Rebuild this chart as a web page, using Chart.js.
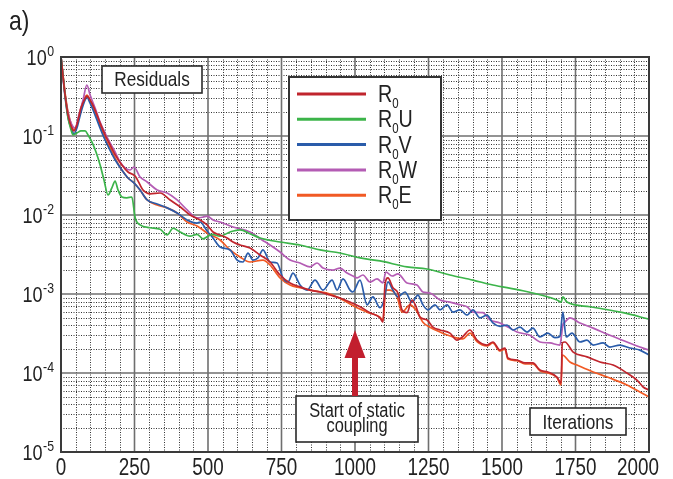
<!DOCTYPE html>
<html>
<head>
<meta charset="utf-8">
<script src="https://cdn.jsdelivr.net/npm/chart.js@4.4.1/dist/chart.umd.min.js"></script>
<style>
    html, body { margin: 0; padding: 0; background: #fff; }
</style>
</head>
<body>
<canvas id="chart-residuos" width="673" height="479"></canvas>
<script>
/**
 * Residuals vs iterations (log scale)
 */
const FONT = '"Liberation Sans", Arial, sans-serif';
const NARROW = 0.82; // compresion horizontal, imita Helvetica Condensed

// Series: iterations and residual values
const itR0 = [0, 14, 24, 37, 44, 54, 68, 82, 88, 99, 116, 133, 150, 167, 184, 207, 228, 252, 279, 303, 337, 371, 405, 439, 473, 497, 517, 541, 565, 585, 609, 643, 677, 711, 745, 779, 813, 847, 881, 915, 949, 983, 1017, 1051, 1085, 1095, 1102, 1112, 1129, 1146, 1160, 1177, 1194, 1207, 1221, 1245, 1265, 1289, 1323, 1347, 1367, 1391, 1415, 1449, 1469, 1493, 1510, 1520, 1551, 1578, 1605, 1629, 1656, 1687, 1701, 1705, 1714, 1742, 1789, 1833, 1878, 1925, 1959, 1980, 2000];
const valR0 = [1.0, 0.33, 0.184, 0.126, 0.116, 0.138, 0.226, 0.30, 0.32, 0.286, 0.213, 0.146, 0.103, 0.077, 0.058, 0.043, 0.035, 0.0312, 0.0207, 0.0185, 0.019, 0.0155, 0.0127, 0.01, 0.00865, 0.00747, 0.00609, 0.00558, 0.00512, 0.00455, 0.00417, 0.00382, 0.00312, 0.00254, 0.00174, 0.00138, 0.00123, 0.00112, 0.00106, 0.00097, 0.00089, 0.00079, 0.00069, 0.00058, 0.0005, 0.00044, 0.0013, 0.0016, 0.0012, 0.00103, 0.00063, 0.00058, 0.00084, 0.0007, 0.00051, 0.00047, 0.00038, 0.00035, 0.00032, 0.00026, 0.00029, 0.00035, 0.00026, 0.000226, 0.000247, 0.000195, 0.000207, 0.000155, 0.000146, 0.000134, 0.000134, 0.000109, 0.000103, 0.0000889, 0.0000747, 0.00024, 0.000247, 0.000184, 0.00016, 0.000138, 0.000126, 0.0001, 0.0000815, 0.0000665, 0.0000609];

const itR0U = [0, 14, 24, 34, 41, 54, 68, 82, 92, 105, 119, 133, 146, 160, 173, 184, 194, 207, 224, 241, 252, 269, 303, 337, 361, 381, 405, 439, 463, 483, 514, 541, 575, 609, 643, 677, 745, 813, 881, 949, 1017, 1085, 1177, 1245, 1323, 1401, 1469, 1571, 1687, 1701, 1707, 1721, 1799, 1912, 2000];
const valR0U = [1.0, 0.33, 0.17, 0.12, 0.103, 0.109, 0.116, 0.116, 0.103, 0.084, 0.0627, 0.043, 0.028, 0.0179, 0.022, 0.0269, 0.0207, 0.0169, 0.0165, 0.0169, 0.0093, 0.0075, 0.0069, 0.0066, 0.0056, 0.0068, 0.0061, 0.0054, 0.0057, 0.005, 0.0057, 0.0054, 0.0061, 0.0065, 0.0058, 0.00512, 0.00455, 0.00417, 0.00361, 0.0033, 0.00286, 0.00262, 0.0022, 0.00207, 0.00174, 0.0015, 0.0013, 0.0011, 0.00084, 0.00079, 0.00092, 0.00079, 0.00069, 0.00058, 0.00048];

const itR0V = [0, 14, 24, 37, 44, 54, 68, 82, 88, 99, 116, 133, 150, 167, 184, 207, 228, 248, 269, 293, 327, 361, 395, 429, 463, 473, 497, 517, 541, 575, 599, 619, 636, 653, 670, 687, 711, 735, 755, 772, 789, 813, 837, 864, 891, 922, 939, 959, 983, 993, 1017, 1041, 1061, 1085, 1099, 1112, 1129, 1146, 1170, 1194, 1214, 1231, 1248, 1272, 1289, 1313, 1333, 1357, 1381, 1401, 1425, 1449, 1469, 1493, 1517, 1537, 1561, 1585, 1605, 1629, 1656, 1680, 1697, 1707, 1718, 1738, 1765, 1789, 1810, 1844, 1867, 1901, 1935, 1969, 2000];
const valR0V = [1.0, 0.31, 0.17, 0.12, 0.106, 0.126, 0.20, 0.286, 0.31, 0.26, 0.184, 0.126, 0.089, 0.066, 0.05, 0.0371, 0.0294, 0.0255, 0.0207, 0.0155, 0.0138, 0.0123, 0.0106, 0.00865, 0.0079, 0.00815, 0.00627, 0.00512, 0.00394, 0.00361, 0.00269, 0.00254, 0.0033, 0.00269, 0.00286, 0.00361, 0.00254, 0.00247, 0.0016, 0.00142, 0.00184, 0.0013, 0.00112, 0.0015, 0.00112, 0.0015, 0.00112, 0.00155, 0.00112, 0.00106, 0.0015, 0.00073, 0.00092, 0.00067, 0.00084, 0.00142, 0.00112, 0.00092, 0.00106, 0.00079, 0.00097, 0.00073, 0.00063, 0.00073, 0.00063, 0.00073, 0.00059, 0.00063, 0.00054, 0.00063, 0.0005, 0.00054, 0.00043, 0.00039, 0.000405, 0.00035, 0.00038, 0.00033, 0.00037, 0.000286, 0.00032, 0.00028, 0.00029, 0.00059, 0.000286, 0.00032, 0.000247, 0.00026, 0.000226, 0.00024, 0.000213, 0.000226, 0.000207, 0.000195, 0.000169];

const itR0W = [0, 14, 24, 37, 48, 61, 75, 88, 99, 116, 133, 150, 167, 184, 201, 218, 235, 248, 269, 293, 327, 361, 395, 429, 463, 483, 497, 517, 541, 585, 643, 684, 711, 745, 779, 813, 847, 871, 891, 925, 949, 973, 993, 1007, 1027, 1051, 1075, 1095, 1105, 1126, 1146, 1177, 1211, 1231, 1255, 1289, 1323, 1357, 1381, 1401, 1435, 1459, 1493, 1527, 1551, 1595, 1629, 1663, 1697, 1707, 1714, 1731, 1765, 1810, 1867, 1925, 1969, 2000];
const valR0W = [1.0, 0.33, 0.195, 0.138, 0.126, 0.184, 0.286, 0.442, 0.33, 0.226, 0.150, 0.109, 0.0815, 0.0627, 0.0469, 0.0394, 0.0371, 0.0405, 0.0303, 0.0262, 0.0207, 0.019, 0.0155, 0.0116, 0.00917, 0.0094, 0.0097, 0.00865, 0.00815, 0.00705, 0.00609, 0.00483, 0.00417, 0.0034, 0.00269, 0.00247, 0.0022, 0.00247, 0.00213, 0.00201, 0.00213, 0.00184, 0.00169, 0.0016, 0.00174, 0.00142, 0.00155, 0.00138, 0.0019, 0.00169, 0.0018, 0.00138, 0.0013, 0.00106, 0.00103, 0.00084, 0.00079, 0.00073, 0.00069, 0.00059, 0.00058, 0.00047, 0.00043, 0.00037, 0.00033, 0.0003, 0.000247, 0.00024, 0.000226, 0.000405, 0.00044, 0.0005, 0.00043, 0.00037, 0.0003, 0.000247, 0.000213, 0.000195];

const itR0E = [0, 14, 24, 37, 44, 54, 68, 82, 88, 99, 116, 133, 150, 167, 184, 207, 228, 248, 269, 293, 327, 361, 395, 429, 463, 497, 541, 575, 609, 643, 687, 711, 745, 779, 813, 847, 915, 959, 1007, 1041, 1085, 1095, 1105, 1119, 1143, 1160, 1187, 1207, 1231, 1255, 1289, 1333, 1367, 1391, 1415, 1449, 1469, 1493, 1510, 1520, 1551, 1578, 1605, 1629, 1656, 1687, 1701, 1705, 1731, 1755, 1810, 1867, 1925, 1969, 2000];
const valR0E = [1.0, 0.35, 0.2, 0.134, 0.12, 0.14, 0.226, 0.31, 0.33, 0.286, 0.2, 0.134, 0.094, 0.0705, 0.0527, 0.0371, 0.0294, 0.0255, 0.0207, 0.0155, 0.0134, 0.0123, 0.0106, 0.00815, 0.00726, 0.00592, 0.00483, 0.00361, 0.00294, 0.00254, 0.00269, 0.00233, 0.0016, 0.0013, 0.0012, 0.00112, 0.001, 0.00084, 0.00067, 0.00059, 0.00051, 0.00046, 0.00112, 0.00112, 0.00092, 0.00059, 0.00073, 0.00063, 0.00044, 0.00038, 0.00033, 0.000286, 0.00027, 0.00032, 0.00025, 0.00022, 0.00024, 0.00019, 0.0002, 0.00015, 0.000143, 0.00013, 0.00013, 0.000107, 0.0001, 0.000087, 0.0000705, 0.000169, 0.000138, 0.000126, 0.000103, 0.0000865, 0.0000705, 0.0000575, 0.0000497];

const seriesLabels = ['R₀', 'R₀U', 'R₀V', 'R₀W', 'R₀E'];
const seriesColors = ['#c0252d', '#3cb44a', '#2a5caa', '#b45cb4', '#f15a24'];
const xTicks = [0, 250, 500, 750, 1000, 1250, 1500, 1750, 2000];
const yDecades = [0, -1, -2, -3, -4, -5];

function toPoints(its, vals) {
    return its.map((it, i) => ({ x: it, y: vals[i] }));
}

/**
 * Texto comprimido horizontalmente
 */
function narrowText(ctx, text, x, y, size, align = 'left') {
    ctx.save();
    ctx.font = `${size}px ${FONT}`;
    ctx.textBaseline = 'alphabetic';
    ctx.textAlign = align;
    ctx.translate(x, y);
    ctx.scale(NARROW, 1);
    ctx.fillText(text, 0, 0);
    ctx.restore();
}

function narrowWidth(ctx, text, size) {
    ctx.save();
    ctx.font = `${size}px ${FONT}`;
    const w = ctx.measureText(text).width * NARROW;
    ctx.restore();
    return w;
}

/**
 * Fondo cuadriculado tipo papel logaritmico
 */
const gridPlugin = {
    id: 'paperGrid',
    beforeDatasetsDraw(chart) {
        const { ctx, chartArea: a, scales: { x, y } } = chart;
        ctx.save();
        // minor dotted
        ctx.strokeStyle = '#333';
        ctx.lineWidth = 1;
        ctx.setLineDash([1, 1.5]);
        for (let v = 50; v < 2000; v += 50) {
            if (v % 250 === 0) continue;
            const px = Math.round(x.getPixelForValue(v)) + 0.5;
            ctx.beginPath(); ctx.moveTo(px, a.top); ctx.lineTo(px, a.bottom); ctx.stroke();
        }
        yDecades.forEach(e => {
            for (let m = 2; m <= 9; m++) {
                const v = m * Math.pow(10, e);
                if (v >= 1) continue;
                const py = Math.round(y.getPixelForValue(v)) + 0.5;
                ctx.beginPath(); ctx.moveTo(a.left, py); ctx.lineTo(a.right, py); ctx.stroke();
            }
        });
        // major solid
        ctx.setLineDash([]);
        ctx.strokeStyle = '#6f6f6f';
        ctx.lineWidth = 1.6;
        xTicks.forEach(v => {
            const px = x.getPixelForValue(v);
            ctx.beginPath(); ctx.moveTo(px, a.top); ctx.lineTo(px, a.bottom); ctx.stroke();
        });
        yDecades.forEach(e => {
            const py = y.getPixelForValue(Math.pow(10, e));
            ctx.beginPath(); ctx.moveTo(a.left, py); ctx.lineTo(a.right, py); ctx.stroke();
        });
        ctx.restore();
    },
    afterDatasetsDraw(chart) {
        const { ctx, chartArea: a } = chart;
        ctx.save();
        ctx.strokeStyle = '#3a3a3a';
        ctx.lineWidth = 2;
        ctx.strokeRect(a.left, a.top, a.right - a.left, a.bottom - a.top);
        ctx.restore();
    }
};

function textBox(ctx, x0, y0, x1, y1, lines, baselines, size) {
    ctx.fillStyle = '#fff';
    ctx.fillRect(x0, y0, x1 - x0, y1 - y0);
    ctx.strokeStyle = '#2a2a2a';
    ctx.lineWidth = 1.6;
    ctx.strokeRect(x0, y0, x1 - x0, y1 - y0);
    ctx.fillStyle = '#222';
    lines.forEach((t, i) => narrowText(ctx, t, (x0 + x1) / 2, baselines[i], size, 'center'));
}

/**
 * Etiquetas, leyenda y anotaciones
 */
const decorPlugin = {
    id: 'decor',
    afterDraw(chart) {
        const { ctx, chartArea: a, scales: { x, y } } = chart;
        ctx.save();
        ctx.fillStyle = '#222';

        // panel label
        narrowText(ctx, 'a)', 9, 30, 28);

        // x labels
        xTicks.forEach(v => {
            const w = narrowWidth(ctx, String(v), 23);
            const px = Math.min(x.getPixelForValue(v), 659 - w / 2);
            narrowText(ctx, String(v), px, 475, 23, 'center');
        });

        // y labels 10^n
        yDecades.forEach(e => {
            const py = y.getPixelForValue(Math.pow(10, e));
            const exp = String(e);
            narrowText(ctx, exp, 54, py - 1, 15, 'right');
            const w = narrowWidth(ctx, exp, 15);
            narrowText(ctx, '10', 54 - w - 0.5, py + 8, 22, 'right');
        });

        // legend
        const lx0 = 289, ly0 = 77, lx1 = 441, ly1 = 220;
        ctx.fillStyle = '#fff';
        ctx.fillRect(lx0, ly0, lx1 - lx0, ly1 - ly0);
        ctx.strokeStyle = '#333';
        ctx.lineWidth = 2;
        ctx.strokeRect(lx0, ly0, lx1 - lx0, ly1 - ly0);
        chart.data.datasets.forEach((ds, i) => {
            const cy = 94 + i * 25.3;
            ctx.strokeStyle = ds.borderColor;
            ctx.lineWidth = 3;
            ctx.beginPath(); ctx.moveTo(297, cy); ctx.lineTo(366, cy); ctx.stroke();
            const [base, rest] = ds.label.split('₀');
            ctx.fillStyle = '#222';
            narrowText(ctx, base, 378, cy + 8, 24);
            let tx = 378 + narrowWidth(ctx, base, 24);
            narrowText(ctx, '0', tx, cy + 14, 14);
            tx += narrowWidth(ctx, '0', 14);
            narrowText(ctx, rest, tx, cy + 8, 24);
        });

        // boxes
        textBox(ctx, 102, 66, 202, 93, ['Residuals'], [86], 21);
        textBox(ctx, 296, 396, 418, 442, ['Start of static', 'coupling'], [417, 432], 20);
        textBox(ctx, 530, 408, 626, 435, ['Iterations'], [429], 21);

        // arrow at start of static coupling
        const ax = x.getPixelForValue(1000);
        ctx.fillStyle = '#c21f2e';
        ctx.beginPath();
        ctx.moveTo(ax, 330);
        ctx.lineTo(ax + 10.5, 358);
        ctx.lineTo(ax - 10.5, 358);
        ctx.closePath();
        ctx.fill();
        ctx.fillRect(ax - 3, 357, 6, 39);

        ctx.restore();
    }
};

const datasetsData = [
    [itR0, valR0], [itR0U, valR0U], [itR0V, valR0V], [itR0W, valR0W], [itR0E, valR0E]
];

new Chart(document.getElementById('chart-residuos'), {
    type: 'line',
    data: {
        datasets: datasetsData.map(([its, vals], i) => ({
            label: seriesLabels[i],
            data: toPoints(its, vals),
            borderColor: seriesColors[i],
            borderWidth: 1.7,
            pointRadius: 0,
            cubicInterpolationMode: 'monotone',
            fill: false
        }))
    },
    options: {
        responsive: false,
        animation: false,
        layout: { padding: { top: 57, right: 24, left: 0, bottom: 0 } },
        plugins: {
            legend: { display: false },
            tooltip: { enabled: false }
        },
        scales: {
            x: {
                type: 'linear',
                min: 0,
                max: 2000,
                grid: { display: false },
                border: { display: false },
                ticks: { display: false, stepSize: 250 },
                afterFit: scale => { scale.height = 27; }
            },
            y: {
                type: 'logarithmic',
                min: 1e-5,
                max: 1,
                grid: { display: false },
                border: { display: false },
                ticks: { display: false },
                afterFit: scale => { scale.width = 61; }
            }
        }
    },
    plugins: [gridPlugin, decorPlugin]
});
</script>
</body>
</html>
